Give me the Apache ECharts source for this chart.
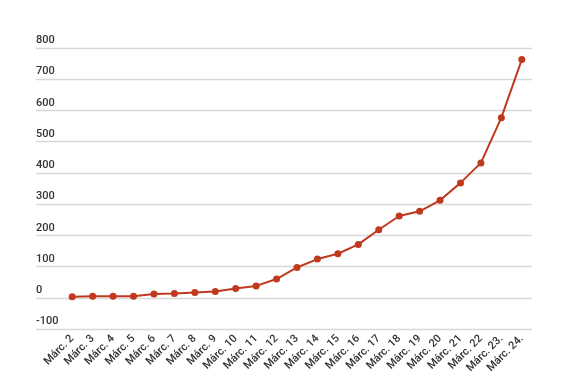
<!DOCTYPE html>
<html>
<head>
<meta charset="utf-8">
<script src="https://cdn.jsdelivr.net/npm/echarts@6/dist/echarts.min.js"></script>
<style>html,body{margin:0;padding:0;background:#fff;}#c{width:575px;height:387px;}</style>
</head>
<body>
<div id="c"></div>
<script>
var categories = ['Márc. 2','Márc. 3','Márc. 4','Márc. 5','Márc. 6','Márc. 7','Márc. 8','Márc. 9','Márc. 10','Márc. 11','Márc. 12','Márc. 13','Márc. 14','Márc. 15','Márc. 16','Márc. 17','Márc. 18','Márc. 19','Márc. 20','Márc. 21','Márc. 22','Márc. 23.','Márc. 24.'];
var values = [3, 5, 5, 5, 12, 14, 17, 20, 30, 38, 60, 97, 124, 141, 171, 218, 262, 277, 312, 368, 432, 577, 763];
var yMin = -100, yMax = 800, yStep = 100;

var chart = echarts.init(document.getElementById('c'));
chart.setOption({
  animation: false,
  grid: [
    {left: 36, right: 43, top: 48, bottom: 58},
    {left: 62, right: 43, top: 48, bottom: 58}
  ],
  xAxis: [
    {gridIndex: 0, type: 'category', data: categories, show: false},
    {gridIndex: 1, type: 'category', data: categories, boundaryGap: true,
     axisLine: {show: false}, axisTick: {show: false},
     axisLabel: {interval: 0, rotate: 45, margin: 8, color: '#333', fontFamily: 'Roboto', fontSize: 11, fontWeight: 500}}
  ],
  yAxis: [
    {gridIndex: 0, type: 'value', min: yMin, max: yMax, interval: yStep,
     axisLine: {show: false}, axisTick: {show: false},
     axisLabel: {inside: true, margin: 0, verticalAlign: 'bottom', padding: [0, 0, 2, 0], color: '#333', fontFamily: 'Roboto', fontSize: 11, fontWeight: 500},
     splitLine: {lineStyle: {color: '#d8d8d8', width: 1.3}}},
    {gridIndex: 1, type: 'value', min: yMin, max: yMax, interval: yStep, show: false, splitLine: {show: false}}
  ],
  series: [{
    type: 'line', xAxisIndex: 1, yAxisIndex: 1, data: values,
    symbol: 'circle', symbolSize: 7,
    lineStyle: {color: '#c0391f', width: 2},
    itemStyle: {color: '#c0391f'}
  }]
});
</script>
</body>
</html>
